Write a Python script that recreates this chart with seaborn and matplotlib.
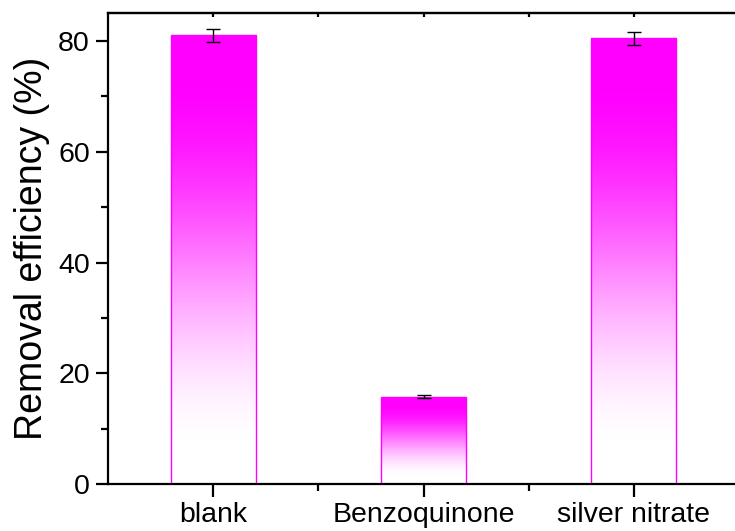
import numpy as np
import pandas as pd
import matplotlib
matplotlib.use("Agg")
import matplotlib.pyplot as plt
import seaborn as sns
from matplotlib.colors import LinearSegmentedColormap
from matplotlib.ticker import MultipleLocator, FixedLocator

categories = ["blank", "Benzoquinone", "silver nitrate"]
values = [81.0, 15.8, 80.5]
errors = [1.2, 0.3, 1.2]
y_ticks = [0, 20, 40, 60, 80]

sns.set_style("ticks")
plt.rcParams['font.family'] = ['Liberation Sans', 'DejaVu Sans']
plt.rcParams['text.color'] = 'black'
plt.rcParams['axes.labelcolor'] = 'black'

fig = plt.figure(figsize=(7.35, 5.31), dpi=100)
ax = fig.add_axes([0.147, 0.0885, 0.8585, 0.887])

df = pd.DataFrame({"cat": categories, "val": values})
sns.barplot(data=df, x="cat", y="val", ax=ax, width=0.405, errorbar=None,
            color="#FF00FF", edgecolor="#FF00FF", linewidth=1.0)

# gradient fill inside each bar
n = 256
f = np.linspace(0, 1, n)
x = np.clip((f - 0.07) / (0.92 - 0.07), 0, 1)
s = 3 * x**2 - 2 * x**3
cmap = LinearSegmentedColormap.from_list("wm", ["#FFFFFF", "#FF00FF"])
grad = s[::-1].reshape(-1, 1)
for p in ax.patches:
    x0, y0 = p.get_x(), p.get_y()
    w, h = p.get_width(), p.get_height()
    p.set_facecolor("none")
    im = ax.imshow(grad, extent=[x0, x0 + w, y0, y0 + h], cmap=cmap,
                   vmin=0, vmax=1, aspect="auto", zorder=p.get_zorder() - 0.1,
                   interpolation="bilinear")
    im.set_clip_path(p)

ax.errorbar(range(len(categories)), values, yerr=errors, fmt="none",
            ecolor="black", elinewidth=1.0, capsize=5, capthick=1.0, zorder=5)

ax.set_xlim(-0.5, 2.5)
ax.set_ylim(0, 85.06)
ax.set_yticks(y_ticks)
ax.yaxis.set_minor_locator(MultipleLocator(10))
ax.xaxis.set_minor_locator(FixedLocator([0.5, 1.5]))
ax.set_xlabel("")
ax.set_ylabel("Removal efficiency (%)", fontsize=27, labelpad=6, color="black")

for sp in ax.spines.values():
    sp.set_visible(True)
    sp.set_linewidth(1.6)
    sp.set_color("black")

ax.tick_params(axis="both", which="major", labelsize=20.5, width=1.6, length=9,
               direction="out", color="black", labelcolor="black", pad=4)
ax.tick_params(axis="both", which="minor", width=1.6, length=5, direction="out",
               color="black")
ax.tick_params(axis="x", which="both", top=False)

# short inward ticks on the top spine
sec = ax.secondary_xaxis("top")
sec.set_xticks([0, 1, 2])
sec.xaxis.set_minor_locator(FixedLocator([0.5, 1.5]))
sec.tick_params(which="both", direction="in", length=3, width=1.6,
                labeltop=False, color="black")
sec.spines["top"].set_linewidth(1.6)

fig.savefig("out.png", dpi=100)
